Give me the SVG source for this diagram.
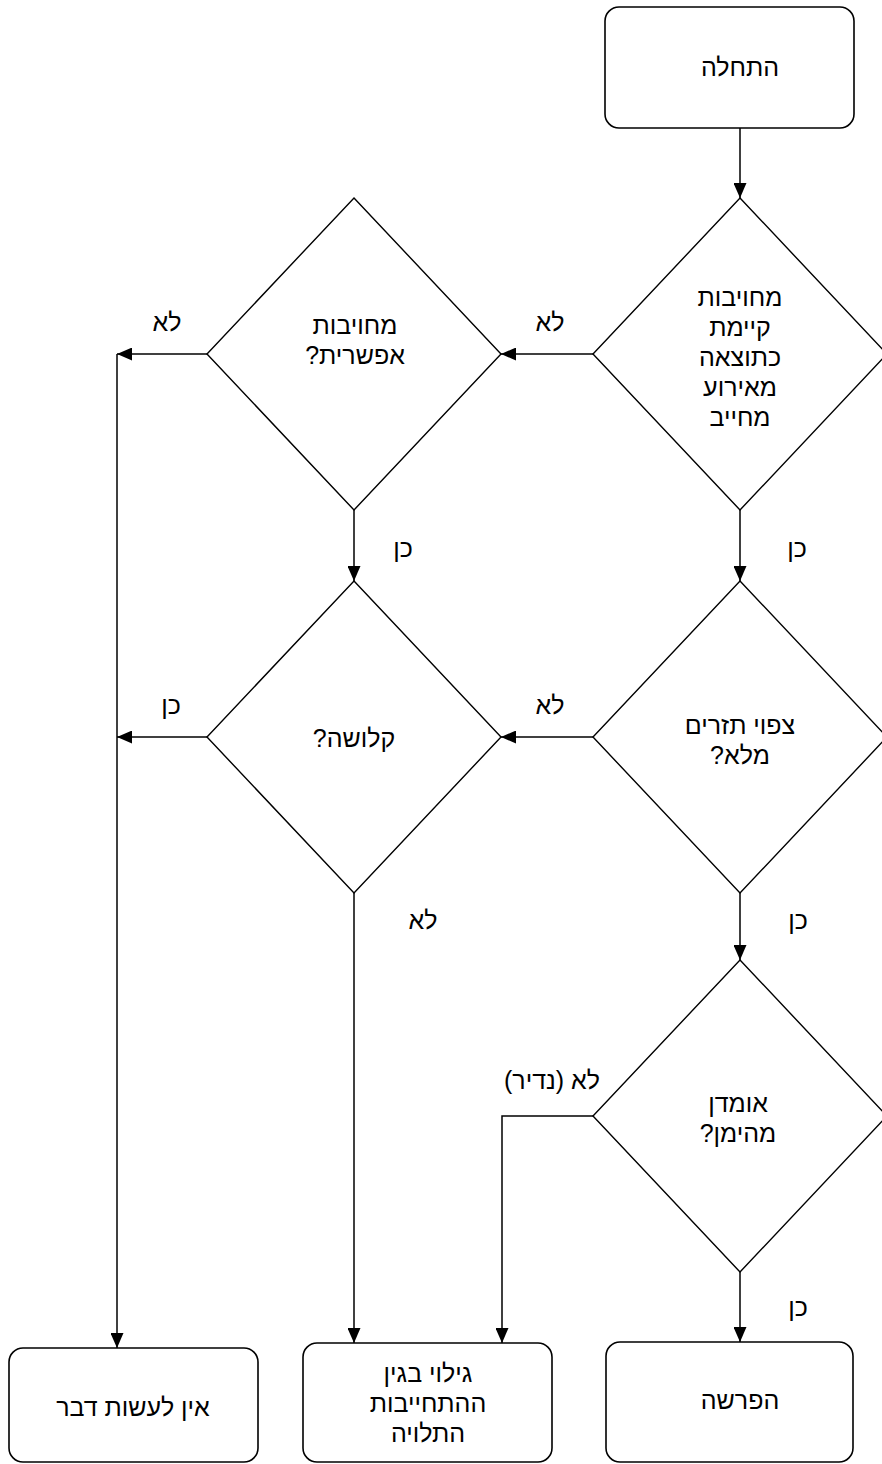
<svg xmlns="http://www.w3.org/2000/svg" width="882" height="1464" viewBox="0 0 882 1464">
<style>
.box{fill:#fff;stroke:#000;stroke-width:1.6}
.dia{fill:#fff;stroke:#000;stroke-width:1.4}
.ln{fill:none;stroke:#000;stroke-width:1.5}
text{font-family:"Liberation Sans","DejaVu Sans",sans-serif;font-size:25px;fill:#000;text-anchor:middle;direction:rtl}
</style>
<defs>
<marker id="ah" markerUnits="userSpaceOnUse" markerWidth="15" markerHeight="13" refX="15" refY="6.5" orient="auto">
<path d="M0,0 L15,6.5 L0,13 z" fill="#000"/>
</marker>
</defs>
<rect width="882" height="1464" fill="#fff"/>
<g id="connectors">
<path class="ln" d="M740,128 L740,198" marker-end="url(#ah)"/>
<path class="ln" d="M740,510 L740,581" marker-end="url(#ah)"/>
<path class="ln" d="M593,354 L501,354" marker-end="url(#ah)"/>
<path class="ln" d="M207,354 L117,354" marker-end="url(#ah)"/>
<path class="ln" d="M117,354 L117,1348" marker-end="url(#ah)"/>
<path class="ln" d="M354,510 L354,581" marker-end="url(#ah)"/>
<path class="ln" d="M593,737 L501,737" marker-end="url(#ah)"/>
<path class="ln" d="M207,737 L117,737" marker-end="url(#ah)"/>
<path class="ln" d="M354,893 L354,1343" marker-end="url(#ah)"/>
<path class="ln" d="M740,893 L740,960" marker-end="url(#ah)"/>
<path class="ln" d="M593,1116 L502,1116 L502,1343" marker-end="url(#ah)"/>
<path class="ln" d="M740,1272 L740,1342" marker-end="url(#ah)"/>
<text x="550" y="331">לא</text>
<text x="167" y="331">לא</text>
<text x="797" y="557">כן</text>
<text x="403" y="557">כן</text>
<text x="550" y="714">לא</text>
<text x="171" y="714">כן</text>
<text x="423" y="929">לא</text>
<text x="798" y="929">כן</text>
<text x="552" y="1089">לא (נדיר)</text>
<text x="798" y="1316">כן</text>
</g>
<g id="start">
<rect class="box" x="605" y="7" width="249" height="121" rx="14"/>
<text x="740" y="76">התחלה</text>
</g>
<g id="d1">
<path class="dia" d="M740,198 L887,354 L740,510 L593,354 Z"/>
<text x="740" y="306">מחויבות</text>
<text x="740" y="336">קיימת</text>
<text x="740" y="366">כתוצאה</text>
<text x="740" y="396">מאירוע</text>
<text x="740" y="426">מחייב</text>
</g>
<g id="d2">
<path class="dia" d="M354,198 L501,354 L354,510 L207,354 Z"/>
<text x="355" y="334">מחויבות</text>
<text x="355" y="364">אפשרית?</text>
</g>
<g id="d3">
<path class="dia" d="M740,581 L887,737 L740,893 L593,737 Z"/>
<text x="740" y="734">צפוי תזרים</text>
<text x="740" y="764">מלא?</text>
</g>
<g id="d4">
<path class="dia" d="M354,581 L501,737 L354,893 L207,737 Z"/>
<text x="354" y="747">קלושה?</text>
</g>
<g id="d5">
<path class="dia" d="M740,960 L887,1116 L740,1272 L593,1116 Z"/>
<text x="738" y="1112">אומדן</text>
<text x="738" y="1142">מהימן?</text>
</g>
<g id="provision">
<rect class="box" x="606" y="1342" width="247" height="120" rx="14"/>
<text x="740" y="1409">הפרשה</text>
</g>
<g id="disclosure">
<rect class="box" x="303" y="1343" width="249" height="119" rx="14"/>
<text x="428" y="1382">גילוי בגין</text>
<text x="428" y="1412">ההתחייבות</text>
<text x="428" y="1442">התלויה</text>
</g>
<g id="nothing">
<rect class="box" x="9" y="1348" width="249" height="114" rx="14"/>
<text x="133" y="1416">אין לעשות דבר</text>
</g>
</svg>
